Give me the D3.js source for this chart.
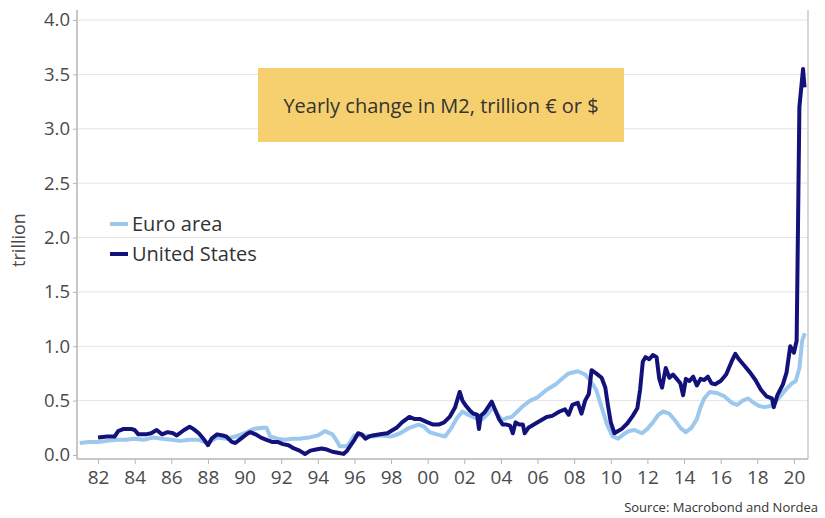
<!DOCTYPE html>
<html><head><meta charset="utf-8">
<script src="https://cdn.jsdelivr.net/npm/d3@7"></script>
<style>body{margin:0;background:#fff}svg{display:block}</style>
</head><body>
<svg id="c" width="825" height="518"></svg>
<script>
// ---- data ----
const yTickValues = [0, 0.5, 1.0, 1.5, 2.0, 2.5, 3.0, 3.5, 4.0];
const xTickYears = [1982,1984,1986,1988,1990,1992,1994,1996,1998,2000,2002,2004,2006,2008,2010,2012,2014,2016,2018,2020];
const xTickLabels = ["82","84","86","88","90","92","94","96","98","00","02","04","06","08","10","12","14","16","18","20"];
const seriesNames = ["Euro area", "United States"];

const euroYears = [1981.0,1981.5,1982.0,1982.5,1983.0,1983.5,1984.0,1984.5,1985.0,1985.5,1986.0,1986.5,1987.0,1987.5,1988.0,1988.5,1989.0,1989.5,1990.0,1990.5,1991.0,1991.2,1991.4,1991.8,1992.2,1992.6,1993.0,1993.5,1994.0,1994.4,1994.8,1995.0,1995.2,1995.6,1996.0,1996.5,1997.0,1997.5,1998.0,1998.5,1999.0,1999.5,1999.8,2000.1,2000.5,2000.95,2001.3,2001.6,2001.9,2002.2,2002.6,2003.0,2003.3,2003.55,2003.8,2004.05,2004.3,2004.6,2004.9,2005.2,2005.6,2006.0,2006.5,2007.0,2007.4,2007.7,2008.2,2008.6,2008.9,2009.2,2009.5,2009.8,2010.1,2010.4,2010.7,2011.0,2011.3,2011.7,2012.0,2012.3,2012.6,2012.85,2013.2,2013.5,2013.8,2014.1,2014.4,2014.7,2014.9,2015.1,2015.4,2015.8,2016.2,2016.6,2016.9,2017.2,2017.5,2017.8,2018.1,2018.4,2018.7,2019.0,2019.3,2019.6,2019.9,2020.1,2020.3,2020.45,2020.6];
const euroValues = [0.11,0.12,0.12,0.13,0.14,0.14,0.15,0.14,0.16,0.15,0.14,0.13,0.14,0.14,0.11,0.16,0.15,0.17,0.20,0.24,0.25,0.25,0.17,0.15,0.14,0.15,0.15,0.16,0.18,0.22,0.19,0.14,0.08,0.08,0.18,0.18,0.17,0.18,0.17,0.20,0.25,0.28,0.26,0.21,0.19,0.17,0.25,0.34,0.40,0.37,0.34,0.33,0.38,0.44,0.38,0.32,0.34,0.35,0.40,0.45,0.50,0.53,0.60,0.65,0.71,0.75,0.77,0.74,0.68,0.60,0.44,0.28,0.17,0.15,0.19,0.22,0.23,0.20,0.24,0.30,0.37,0.40,0.38,0.32,0.25,0.21,0.25,0.33,0.44,0.52,0.58,0.57,0.54,0.48,0.46,0.50,0.52,0.48,0.45,0.44,0.45,0.49,0.55,0.61,0.66,0.68,0.80,1.05,1.12];

const usYears = [1982.0,1982.5,1982.9,1983.1,1983.4,1983.8,1984.0,1984.2,1984.6,1984.9,1985.2,1985.5,1985.8,1986.1,1986.3,1986.7,1987.0,1987.2,1987.5,1987.8,1988.0,1988.2,1988.5,1988.8,1989.0,1989.3,1989.5,1989.8,1990.1,1990.3,1990.6,1990.9,1991.2,1991.5,1991.8,1992.1,1992.4,1992.7,1993.0,1993.3,1993.6,1993.9,1994.2,1994.5,1994.8,1995.1,1995.4,1995.6,1995.8,1996.0,1996.2,1996.4,1996.6,1996.8,1997.0,1997.4,1997.8,1998.0,1998.3,1998.6,1999.0,1999.3,1999.6,2000.0,2000.3,2000.6,2000.9,2001.2,2001.5,2001.75,2001.9,2002.1,2002.3,2002.5,2002.7,2002.8,2002.9,2003.1,2003.3,2003.5,2003.7,2003.9,2004.1,2004.3,2004.5,2004.65,2004.8,2005.0,2005.2,2005.3,2005.5,2005.8,2006.1,2006.5,2006.8,2007.2,2007.5,2007.7,2007.9,2008.2,2008.4,2008.6,2008.8,2008.95,2009.2,2009.5,2009.7,2009.85,2010.0,2010.2,2010.4,2010.6,2010.9,2011.2,2011.45,2011.6,2011.75,2011.9,2012.1,2012.3,2012.5,2012.65,2012.8,2013.0,2013.2,2013.4,2013.6,2013.8,2013.95,2014.1,2014.3,2014.5,2014.7,2014.9,2015.1,2015.3,2015.5,2015.7,2016.0,2016.3,2016.6,2016.8,2017.0,2017.3,2017.6,2017.9,2018.2,2018.5,2018.8,2018.9,2019.1,2019.4,2019.6,2019.8,2020.0,2020.15,2020.3,2020.5,2020.58];
const usValues = [0.16,0.17,0.17,0.22,0.24,0.24,0.23,0.19,0.19,0.20,0.23,0.19,0.21,0.20,0.18,0.23,0.26,0.24,0.20,0.14,0.09,0.15,0.19,0.18,0.17,0.12,0.11,0.15,0.19,0.21,0.19,0.16,0.14,0.12,0.12,0.10,0.09,0.06,0.04,0.01,0.04,0.05,0.06,0.05,0.03,0.02,0.01,0.04,0.09,0.14,0.20,0.19,0.15,0.17,0.18,0.19,0.20,0.22,0.25,0.30,0.35,0.33,0.33,0.30,0.28,0.28,0.30,0.35,0.44,0.58,0.50,0.45,0.41,0.38,0.37,0.24,0.36,0.39,0.44,0.49,0.41,0.33,0.28,0.28,0.27,0.20,0.30,0.28,0.28,0.20,0.25,0.28,0.31,0.35,0.36,0.40,0.42,0.37,0.46,0.48,0.38,0.50,0.56,0.78,0.75,0.71,0.62,0.45,0.30,0.20,0.22,0.24,0.29,0.36,0.43,0.60,0.86,0.90,0.88,0.92,0.90,0.70,0.62,0.80,0.71,0.74,0.70,0.66,0.55,0.70,0.68,0.72,0.64,0.70,0.69,0.72,0.66,0.65,0.68,0.74,0.86,0.93,0.88,0.82,0.76,0.69,0.60,0.54,0.52,0.44,0.55,0.65,0.76,1.00,0.94,1.05,3.20,3.55,3.38];

// ---- layout ----
const plotLeft = 77, plotRight = 808, plotTop = 10, axisY = 459;
const svg = d3.select("#c");
const font = "'Open Sans', 'Noto Sans', sans-serif";

const x = d3.scaleLinear().domain([1980.85, 2020.77]).range([plotLeft, plotRight]);
const y = d3.scaleLinear().domain([0, 4]).range([455, 20]);

// gridlines
svg.append("g").selectAll("line").data(yTickValues.filter(v => v > 0)).join("line")
  .attr("x1", plotLeft).attr("x2", plotRight)
  .attr("y1", d => y(d)).attr("y2", d => y(d))
  .attr("stroke", "#e4e4e4").attr("stroke-width", 1);

// frame
svg.append("line").attr("x1", plotLeft).attr("x2", plotLeft).attr("y1", plotTop).attr("y2", axisY)
  .attr("stroke", "#b5b5b5").attr("stroke-width", 1.5);
svg.append("line").attr("x1", plotRight).attr("x2", plotRight).attr("y1", plotTop).attr("y2", axisY)
  .attr("stroke", "#c8c8c8").attr("stroke-width", 1.5);
svg.append("line").attr("x1", plotLeft).attr("x2", plotRight).attr("y1", axisY).attr("y2", axisY)
  .attr("stroke", "#b5b5b5").attr("stroke-width", 1.5);

// y axis
const yAxis = d3.axisLeft(y).tickValues(yTickValues).tickFormat(d3.format(".1f")).tickSize(4).tickPadding(3);
const gy = svg.append("g").attr("transform", `translate(${plotLeft},0)`).call(yAxis);
gy.select(".domain").remove();
gy.selectAll(".tick line").attr("stroke", "#b5b5b5");
gy.selectAll("text").attr("font-family", font).attr("font-size", 18.5).attr("fill", "#4a4a4a");

// x axis
const xAxis = d3.axisBottom(x).tickValues(xTickYears).tickFormat((d, i) => xTickLabels[i]).tickSize(5).tickPadding(7);
const gx = svg.append("g").attr("transform", `translate(0,${axisY})`).call(xAxis);
gx.select(".domain").remove();
gx.selectAll(".tick line").attr("stroke", "#b5b5b5");
gx.selectAll("text").attr("font-family", font).attr("font-size", 19).attr("fill", "#4a4a4a");

// y label
svg.append("text").attr("transform", "translate(25,240) rotate(-90)")
  .attr("text-anchor", "middle").attr("font-family", font).attr("font-size", 18).attr("fill", "#4a4a4a")
  .text("trillion");

// lines
const euroData = euroYears.map((t, i) => [t, euroValues[i]]);
const usData = usYears.map((t, i) => [t, usValues[i]]);
const line = d3.line().x(d => x(d[0])).y(d => y(d[1]));
const colors = ["#9cc8ee", "#12127a"];

svg.append("path").datum(euroData).attr("d", line).attr("fill", "none")
  .attr("stroke", colors[0]).attr("stroke-width", 4).attr("stroke-linejoin", "round");
svg.append("path").datum(usData).attr("d", line).attr("fill", "none")
  .attr("stroke", colors[1]).attr("stroke-width", 4).attr("stroke-linejoin", "round");

// title box
svg.append("rect").attr("x", 258).attr("y", 68).attr("width", 366).attr("height", 74).attr("fill", "#f6d06e");
svg.append("text").attr("x", 441).attr("y", 113).attr("text-anchor", "middle")
  .attr("font-family", font).attr("font-size", 20).attr("fill", "#333")
  .text("Yearly change in M2, trillion € or $");

// legend
const lg = svg.append("g");
seriesNames.forEach((n, i) => {
  const ly = 224 + i * 30;
  lg.append("line").attr("x1", 110).attr("x2", 128).attr("y1", ly).attr("y2", ly)
    .attr("stroke", colors[i]).attr("stroke-width", 4);
  lg.append("text").attr("x", 132).attr("y", ly + 7).attr("font-family", font)
    .attr("font-size", 20).attr("fill", "#333").text(n);
});

// source
svg.append("text").attr("x", 818).attr("y", 512).attr("text-anchor", "end")
  .attr("font-family", font).attr("font-size", 13).attr("fill", "#333")
  .text("Source: Macrobond and Nordea");
</script>
</body></html>
